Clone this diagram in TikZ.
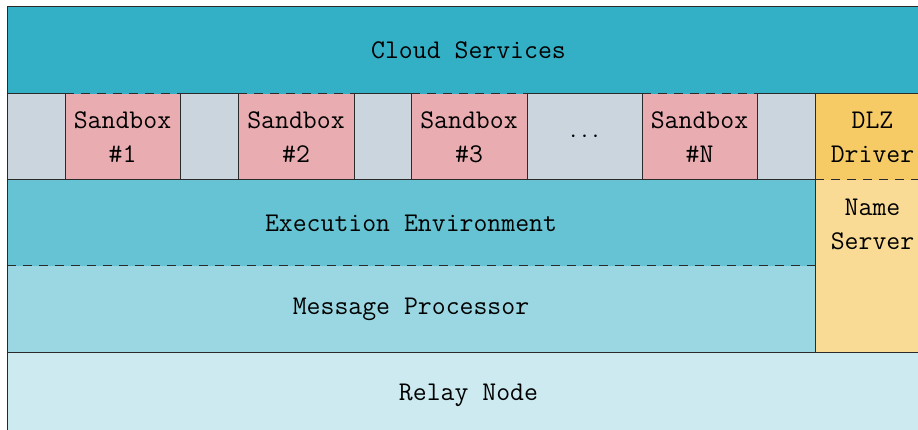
\documentclass[tikz,border=0pt]{standalone}
\usepackage{tikz}
\definecolor{cloudc}{HTML}{33AFC6}
\definecolor{grayc}{HTML}{CAD5DD}
\definecolor{sandc}{HTML}{E9ADB1}
\definecolor{execc}{HTML}{65C3D3}
\definecolor{msgc}{HTML}{9AD7E2}
\definecolor{relayc}{HTML}{CCEAEF}
\definecolor{dlzc}{HTML}{F6CB66}
\definecolor{namec}{HTML}{FADB96}
\definecolor{edgec}{HTML}{2A2A2A}
\tikzset{
  cell/.style={draw=none, inner sep=0pt, outer sep=0pt, align=center,
    font=\fontsize{27}{34}\selectfont\ttfamily},
  edge/.style={draw=edgec, line width=1pt},
  dashedge/.style={draw=edgec, line width=1pt, dash pattern=on 9pt off 7pt},
}
\begin{document}
\begin{tikzpicture}[x=1pt, y=-1pt]
\useasboundingbox (0,0) rectangle (918,430);
\clip (0,0) rectangle (918,430);

% layers
\node[cell, fill=cloudc, minimum width=923pt, minimum height=87pt] (cloud) at (468.5,50.5) {Cloud Services};
\node[cell, fill=grayc, minimum width=58pt, minimum height=86pt] (g0) at (36,137) {};
\node[cell, fill=sandc, minimum width=115pt, minimum height=86pt] (sb1) at (122.5,137) {Sandbox\\\#1};
\node[cell, fill=grayc, minimum width=58pt, minimum height=86pt] (g1) at (209,137) {};
\node[cell, fill=sandc, minimum width=116pt, minimum height=86pt] (sb2) at (296,137) {Sandbox\\\#2};
\node[cell, fill=grayc, minimum width=57pt, minimum height=86pt] (g2) at (382.5,137) {};
\node[cell, fill=sandc, minimum width=116pt, minimum height=86pt] (sb3) at (469,137) {Sandbox\\\#3};
\node[cell, fill=grayc, minimum width=115pt, minimum height=86pt] (dots) at (584.5,137) {$\cdots$};
\node[cell, fill=sandc, minimum width=115pt, minimum height=86pt] (sbN) at (699.5,137) {Sandbox\\\#N};
\node[cell, fill=grayc, minimum width=58pt, minimum height=86pt] (g3) at (786,137) {};
\node[cell, fill=dlzc, minimum width=115pt, minimum height=86pt] (dlz) at (872.5,137) {DLZ\\Driver};
\node[cell, fill=execc, minimum width=808pt, minimum height=86pt] (exec) at (411,223) {Execution Environment};
\node[cell, fill=msgc, minimum width=808pt, minimum height=86pt] (msg) at (411,309) {Message Processor};
\node[cell, fill=namec, minimum width=115pt, minimum height=172pt] (names) at (872.5,266) {};
\node[cell] (namet) at (872.5,224) {Name\\Server};
\node[cell, fill=relayc, minimum width=923pt, minimum height=87pt] (relay) at (468.5,395.5) {Relay Node};

% outer frame
\draw[edge] (cloud.south west) |- (cloud.north east) -- (relay.south east);
\draw[edge] (cloud.north west) -- (relay.south west);

% top edges of the sandbox row
\foreach \n in {g0,g1,g2,dots,g3,dlz} \draw[edge] (\n.north west) -- (\n.north east);
\foreach \n in {sb1,sb2,sb3,sbN} \draw[dashedge] (\n.north west) -- (\n.north east);

% separators inside the sandbox row
\foreach \n in {sb1,sb2,sb3,sbN} {
  \draw[edge] (\n.north west) -- (\n.south west);
  \draw[edge] (\n.north east) -- (\n.south east);
}
\draw[edge] (dlz.north west) -- (dlz.south west);

% lower layers
\draw[edge] (exec.north west) -- (exec.north east);
\draw[dashedge] (names.north west) -- (names.north east);
\draw[edge] (names.north west) -- (names.south west);
\draw[dashedge] (msg.north west) -- (msg.north east);
\draw[edge] (relay.north west) -- (relay.north east);
\end{tikzpicture}
\end{document}
